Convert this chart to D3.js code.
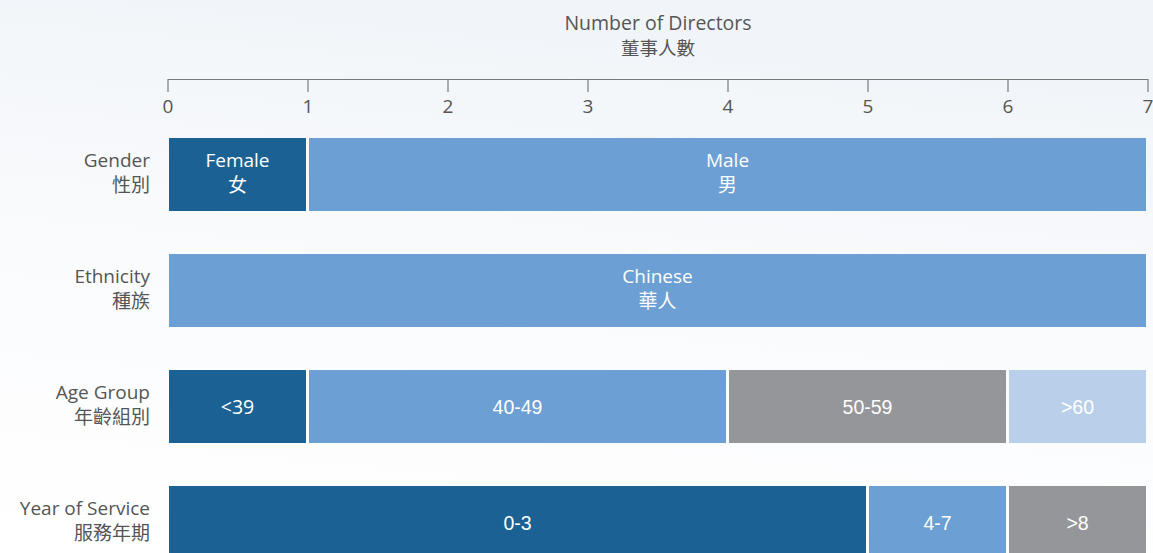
<!DOCTYPE html>
<html>
<head>
<meta charset="utf-8">
<script src="https://cdn.jsdelivr.net/npm/d3@7"></script>
<style>
  body { margin: 0; background: #fff; }
  svg { display: block; font-family: "Open Sans", "Noto Sans", sans-serif; }
  .axis text { font-size: 19px; fill: #555; font-family: "Open Sans", sans-serif; }
  .axis path, .axis line { stroke: #7a7a7a; stroke-width: 1.2; }
</style>
</head>
<body>
<div id="chart"></div>
<script>
// rows and their labels
const rows = ["Gender", "Ethnicity", "Age Group", "Year of Service"];
const rowsZh = ["性別", "種族", "年齡組別", "服務年期"];

// segments per row (number of directors)
const genderCats = [["Female", "女"], ["Male", "男"]];
const genderVals = [1, 6];
const ethnicityCats = [["Chinese", "華人"]];
const ethnicityVals = [7];
const ageCats = [["<39"], ["40-49"], ["50-59"], [">60"]];
const ageVals = [1, 3, 2, 1];
const serviceCats = [["0-3"], ["4-7"], [">8"]];
const serviceVals = [5, 1, 1];

const xTicks = [0, 1, 2, 3, 4, 5, 6, 7];

const dark = "#1c6194", mid = "#6c9fd4", grey = "#959699", light = "#bacfea";
const palette = {
  "Gender": [dark, mid],
  "Ethnicity": [mid],
  "Age Group": [dark, mid, grey, light],
  "Year of Service": [dark, mid, grey]
};

let width = 1153, height = 553;

const svg = d3.select("#chart")
  .append("svg")
  .attr("width", width)
  .attr("height", height);

// soft background wash
const defs = svg.append("defs");
const grad = defs.append("linearGradient")
  .attr("id", "bg").attr("x1", 0.2).attr("y1", 0).attr("x2", 0).attr("y2", 1);
grad.append("stop").attr("offset", "0%").attr("stop-color", "#f1f5f9");
grad.append("stop").attr("offset", "45%").attr("stop-color", "#fafbfd");
grad.append("stop").attr("offset", "100%").attr("stop-color", "#ffffff");
svg.append("rect").attr("width", width).attr("height", height).attr("fill", "url(#bg)");

let x = d3.scaleLinear()
  .domain([0, 7])
  .range([167.5, 1147.5]);

let y = d3.scaleBand()
  .domain(rows)
  .range([138, 138 + 4 * 116 - 43])
  .paddingInner(43 / 116)
  .paddingOuter(0);

// stack the segments
function stackRow(name, cats, vals) {
  let acc = 0;
  return vals.map((v, i) => {
    const d = { row: name, label: cats[i], x0: acc, x1: acc + v, color: palette[name][i] };
    acc += v;
    return d;
  });
}
const segs = [].concat(
  stackRow("Gender", genderCats, genderVals),
  stackRow("Ethnicity", ethnicityCats, ethnicityVals),
  stackRow("Age Group", ageCats, ageVals),
  stackRow("Year of Service", serviceCats, serviceVals)
);

// axis on top, ticks pointing down
svg.append("g")
  .attr("class", "axis")
  .attr("transform", "translate(0,79)")
  .call(d3.axisBottom(x).tickValues(xTicks).tickFormat(d3.format("d"))
    .tickSize(13).tickSizeOuter(0).tickPadding(8));

svg.append("text")
  .attr("x", 658).attr("y", 30)
  .attr("text-anchor", "middle")
  .attr("font-size", 19.5).attr("fill", "#555")
  .text("Number of Directors");
svg.append("text")
  .attr("x", 658).attr("y", 55)
  .attr("text-anchor", "middle")
  .attr("font-size", 18.5).attr("fill", "#555")
  .attr("font-family", "'Noto Sans CJK TC', sans-serif")
  .text("董事人數");

// row labels
const rl = svg.append("g").selectAll("g")
  .data(rows)
  .join("g")
  .attr("transform", d => `translate(150,${y(d) + y.bandwidth() / 2})`);
rl.append("text")
  .attr("text-anchor", "end").attr("y", -8)
  .attr("font-size", 19).attr("fill", "#555")
  .text(d => d);
rl.append("text")
  .attr("text-anchor", "end").attr("y", 17)
  .attr("font-size", 19).attr("fill", "#555")
  .attr("font-family", "'Noto Sans CJK TC', sans-serif")
  .text((d, i) => rowsZh[i]);

// bars
svg.append("g")
  .selectAll("rect")
  .data(segs)
  .join("rect")
  .attr("x", d => x(d.x0) + 1.5)
  .attr("y", d => y(d.row))
  .attr("width", d => x(d.x1) - x(d.x0) - 3)
  .attr("height", y.bandwidth())
  .attr("fill", d => d.color);

// bar labels
const bl = svg.append("g").selectAll("g")
  .data(segs)
  .join("g")
  .attr("transform", d => `translate(${(x(d.x0) + x(d.x1)) / 2},${y(d.row) + y.bandwidth() / 2})`);
bl.each(function(d) {
  const g = d3.select(this);
  if (d.label.length === 2) {
    g.append("text").attr("text-anchor", "middle").attr("y", -8)
      .attr("font-size", 19).attr("fill", "#fff").text(d.label[0]);
    g.append("text").attr("text-anchor", "middle").attr("y", 17)
      .attr("font-size", 19).attr("fill", "#fff")
      .attr("font-family", "'Noto Sans CJK TC', sans-serif").text(d.label[1]);
  } else {
    g.append("text").attr("text-anchor", "middle").attr("y", 7)
      .attr("font-size", 19.5).attr("fill", "#fff")
      .attr("font-family", d.label[0] === "<39" ? "'Open Sans', sans-serif" : "'Liberation Sans', Arial, sans-serif")
      .text(d.label[0]);
  }
});
</script>
</body>
</html>
